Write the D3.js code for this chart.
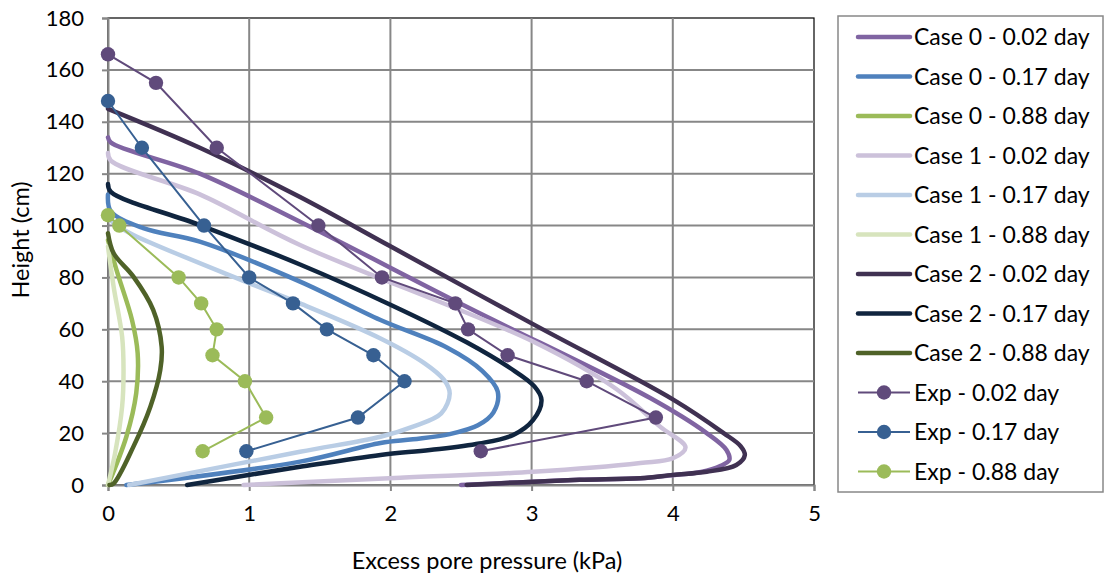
<!DOCTYPE html>
<html><head><meta charset="utf-8">
<script src="https://cdn.jsdelivr.net/npm/d3@7"></script>
<style>
body{margin:0;background:#fff}
text{font-family:Lato,"Open Sans",sans-serif;fill:#000}
</style>
</head><body>
<svg id="c" width="1105" height="575"></svg>
<script>
// ---- data (x = excess pore pressure kPa, h = height cm) ----
const xTicks = [0, 1, 2, 3, 4, 5];
const yTicks = [0, 20, 40, 60, 80, 100, 120, 140, 160, 180];

const case0_002 = [[0,134],[0.02,132],[0.65,120],[1.36,101.5],[2.54,68.7],[3.84,33.5],[4.24,20],[4.38,13.5],[4.40,9.6],[4.34,7.4],[4.2,5.0],[4.0,3.8],[3.77,2.6],[3.34,2.0],[2.9,1.0],[2.5,0]];
const case0_017 = [[0,112],[0.02,105.5],[0.25,99],[0.65,93.8],[1.36,78.4],[1.93,63.6],[2.40,53],[2.65,44],[2.76,36],[2.73,28],[2.62,23],[2.42,19.6],[2.16,17.6],[1.93,16.2],[1.36,9],[0.13,0]];
const case0_088 = [[0,94.4],[0.06,82.9],[0.17,63.6],[0.21,50.8],[0.20,35.4],[0.13,18.6],[0,0]];
const case1_002 = [[0,128],[0.02,125],[0.65,112],[1.36,92.5],[3.01,55.3],[3.6,37],[3.91,22.5],[4.09,14.5],[4.0,10.3],[3.77,8.5],[3.01,5.1],[2.07,2.8],[0.96,0]];
const case1_017 = [[0,103],[0.05,100.5],[0.18,96.4],[1.0,77.8],[1.36,70],[1.93,56.5],[2.24,47],[2.38,40.5],[2.42,35.3],[2.36,27.6],[2.16,22.5],[1.93,18.6],[1.36,12.8],[0.15,0]];
const case1_088 = [[0,91.9],[0.04,76.4],[0.10,57.2],[0.11,44.3],[0.10,30.2],[0.05,12.2],[0,0]];
const case2_002 = [[0,145],[0.65,130],[1.36,111],[2.0,92],[3.01,62],[4.0,33],[4.36,20],[4.48,15],[4.51,11.5],[4.45,7.7],[4.24,5.1],[4.0,3.9],[3.77,2.6],[3.34,2.0],[2.9,1.0],[2.54,0]];
const case2_017 = [[0,116],[0.02,113],[0.65,100.2],[1.36,85],[2.0,69.5],[2.54,55],[2.85,45],[3.02,38],[3.07,32.8],[3.01,25],[2.87,19.3],[2.63,16],[2.28,13.5],[1.93,11.6],[1.36,7],[0.56,0]];
const case2_088 = [[0,97],[0.04,89.3],[0.18,80.3],[0.32,67.5],[0.38,53.3],[0.37,44.3],[0.30,30.2],[0.18,14.8],[0.04,0.6],[0.01,0]];

const exp_002 = [[0,166],[0.34,155],[0.77,130],[1.49,100],[1.94,80],[2.46,70],[2.55,60],[2.83,50],[3.39,40],[3.88,26],[2.64,13]];
const exp_017 = [[0,148],[0.24,130],[0.68,100],[1.0,80],[1.31,70],[1.55,60],[1.88,50],[2.10,40],[1.77,26],[0.98,13]];
const exp_088 = [[0,104],[0.08,100],[0.50,80],[0.66,70],[0.77,60],[0.74,50],[0.97,40],[1.12,26],[0.67,13]];

const seriesNames = ["Case 0 - 0.02 day","Case 0 - 0.17 day","Case 0 - 0.88 day",
  "Case 1 - 0.02 day","Case 1 - 0.17 day","Case 1 - 0.88 day",
  "Case 2 - 0.02 day","Case 2 - 0.17 day","Case 2 - 0.88 day",
  "Exp - 0.02 day","Exp - 0.17 day","Exp - 0.88 day"];
const seriesData = [case0_002,case0_017,case0_088,case1_002,case1_017,case1_088,case2_002,case2_017,case2_088,exp_002,exp_017,exp_088];
const seriesColors = ["#8064a2","#4f81bd","#9bbb59","#ccc1da","#b9cde5","#d7e4bd","#403152","#10253f","#4f6228","#604a7b","#376092","#9bbb59"];
const seriesIsExp = [false,false,false,false,false,false,false,false,false,true,true,true];

// ---- layout ----
const svg = d3.select("#c");
const L = 108, R = 814, T = 18, B = 485;
const x = d3.scaleLinear().domain([0,5]).range([L,R]);
const y = d3.scaleLinear().domain([0,180]).range([B,T]);
const grid = "#878787";

// plot border
svg.append("rect").attr("x",L).attr("y",T).attr("width",R-L).attr("height",B-T)
  .attr("fill","none").attr("stroke","#000").attr("stroke-width",1.2);

// gridlines
svg.append("g").selectAll("line").data(yTicks.filter(d=>d>0 && d<180)).join("line")
  .attr("x1",L).attr("x2",R).attr("y1",d=>y(d)).attr("y2",d=>y(d))
  .attr("stroke",grid).attr("stroke-width",2);
svg.append("g").selectAll("line").data(xTicks.filter(d=>d>0 && d<5)).join("line")
  .attr("y1",T).attr("y2",B).attr("x1",d=>x(d)).attr("x2",d=>x(d))
  .attr("stroke",grid).attr("stroke-width",2);

// axes
const yAxis = svg.append("g").attr("transform",`translate(${L},0)`)
  .call(d3.axisLeft(y).tickValues(yTicks).tickFormat(d3.format("d")).tickSize(6).tickPadding(18));
const xAxis = svg.append("g").attr("transform",`translate(0,${B})`)
  .call(d3.axisBottom(x).tickValues(xTicks).tickFormat(d3.format("d")).tickSize(6).tickPadding(14));
[yAxis,xAxis].forEach(a=>{
  a.select(".domain").attr("stroke",grid).attr("stroke-width",2);
  a.selectAll(".tick line").attr("stroke",grid).attr("stroke-width",2);
  a.selectAll(".tick text").attr("font-size",22).attr("font-family","Lato,sans-serif").attr("fill","#000");
});

// axis titles
svg.append("text").attr("x",487).attr("y",569).attr("text-anchor","middle").attr("font-size",23.5).text("Excess pore pressure (kPa)");
svg.append("text").attr("transform","translate(29,240) rotate(-90)").attr("text-anchor","middle").attr("font-size",23.5).text("Height (cm)");

// series
const smooth = d3.line().x(d=>x(d[0])).y(d=>y(d[1])).curve(d3.curveCatmullRom.alpha(0.5));
const straight = d3.line().x(d=>x(d[0])).y(d=>y(d[1]));
const plot = svg.append("g");
seriesData.forEach((data,i)=>{
  if(!seriesIsExp[i]){
    plot.append("path").attr("d",smooth(data)).attr("fill","none")
      .attr("stroke",seriesColors[i]).attr("stroke-width",4.5).attr("stroke-linecap","round").attr("stroke-linejoin","round");
  }
});
seriesData.forEach((data,i)=>{
  if(seriesIsExp[i]){
    plot.append("path").attr("d",straight(data)).attr("fill","none")
      .attr("stroke",seriesColors[i]).attr("stroke-width",2);
    plot.append("g").selectAll("circle").data(data).join("circle")
      .attr("cx",d=>x(d[0])).attr("cy",d=>y(d[1])).attr("r",7.2).attr("fill",seriesColors[i]);
  }
});

// legend
const lg = svg.append("g");
lg.append("rect").attr("x",838).attr("y",16).attr("width",265).attr("height",476)
  .attr("fill","#fff").attr("stroke","#888").attr("stroke-width",1.5);
seriesNames.forEach((name,i)=>{
  const cy = 37 + i*39.5;
  const g = lg.append("g");
  if(seriesIsExp[i]){
    g.append("line").attr("x1",858).attr("x2",910).attr("y1",cy).attr("y2",cy).attr("stroke",seriesColors[i]).attr("stroke-width",2);
    g.append("circle").attr("cx",884).attr("cy",cy).attr("r",7.2).attr("fill",seriesColors[i]);
  } else {
    g.append("line").attr("x1",858).attr("x2",910).attr("y1",cy).attr("y2",cy).attr("stroke",seriesColors[i]).attr("stroke-width",4.5).attr("stroke-linecap","round");
  }
  g.append("text").attr("x",914).attr("y",cy+8).attr("font-size",23).text(name);
});
</script>
</body></html>
